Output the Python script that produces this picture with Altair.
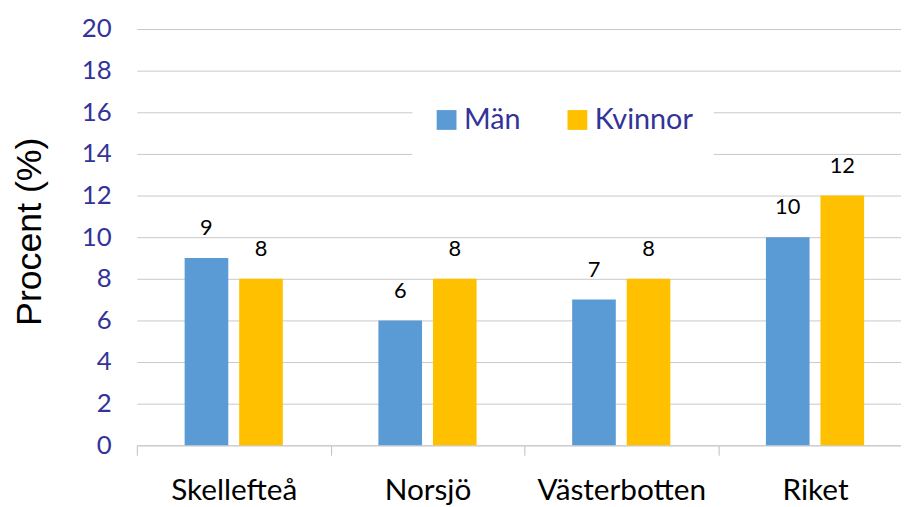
import altair as alt
import pandas as pd

categories = ["Skellefteå", "Norsjö", "Västerbotten", "Riket"]
series = ["Män", "Kvinnor"]
man = [9, 6, 7, 10]
kvinnor = [8, 8, 8, 12]
colors = ["#5B9BD5", "#FFC000"]
y_ticks = [0, 2, 4, 6, 8, 10, 12, 14, 16, 18, 20]

rows = []
for i, c in enumerate(categories):
    rows.append({"Område": c, "Kön": series[0], "Procent": man[i]})
    rows.append({"Område": c, "Kön": series[1], "Procent": kvinnor[i]})
df = pd.DataFrame(rows)

FONT = "Lato"
LABEL_BLUE = "#333399"

x_enc = alt.X(
    "Område:N",
    sort=categories,
    scale=alt.Scale(paddingInner=0, paddingOuter=0),
    axis=alt.Axis(
        title=None,
        tickBand="extent",
        tickSize=10,
        tickColor="#bfbfbf",
        domainColor="#c8c8c8",
        labelFont=FONT,
        labelFontSize=30,
        labelColor="black",
        labelPadding=21,
        labelAngle=0,
        grid=False,
    ),
)
xoff = alt.XOffset(
    "Kön:N", sort=series, scale=alt.Scale(domain=series, paddingInner=0.2, paddingOuter=0.876)
)
y_enc = alt.Y(
    "Procent:Q",
    scale=alt.Scale(domain=[0, 20], nice=False),
    axis=alt.Axis(
        title="Procent (%)",
        values=y_ticks,
        ticks=False,
        domain=False,
        labelFont=FONT,
        labelFontSize=26,
        labelColor=LABEL_BLUE,
        labelPadding=26,
        gridColor="#c8c8c8",
        gridWidth=1,
        titleFont="Liberation Sans",
        titleFontSize=36,
        titleFontWeight="normal",
        titleColor="black",
        titlePadding=33,
        titleY=204,
    ),
)

base = alt.Chart(df).encode(x=x_enc, xOffset=xoff, y=y_enc)

bars = base.mark_bar().encode(
    color=alt.Color(
        "Kön:N",
        sort=series,
        scale=alt.Scale(domain=series, range=colors),
        legend=alt.Legend(
            title=None,
            orient="none",
            legendX=278,
            legendY=57,
            direction="horizontal",
            symbolType="square",
            symbolSize=400,
            symbolStrokeWidth=0,
            labelFont=FONT,
            labelFontSize=29,
            labelColor=LABEL_BLUE,
            labelOffset=3,
            columnPadding=42,
            padding=20,
            fillColor="white",
        ),
    )
)

labels = base.mark_text(font=FONT, fontSize=22, color="black", dy=-30).encode(
    text=alt.Text("Procent:Q")
)

chart = (
    alt.layer(bars, labels)
    .properties(
        width=782,
        height=420,
        autosize=alt.AutoSizeParams(type="none"),
        padding={"left": 130, "top": 19, "right": -11, "bottom": 60},
    )
    .configure_view(stroke=None)
)

chart.save("out.html", embed_options={"renderer": "svg", "actions": False})
